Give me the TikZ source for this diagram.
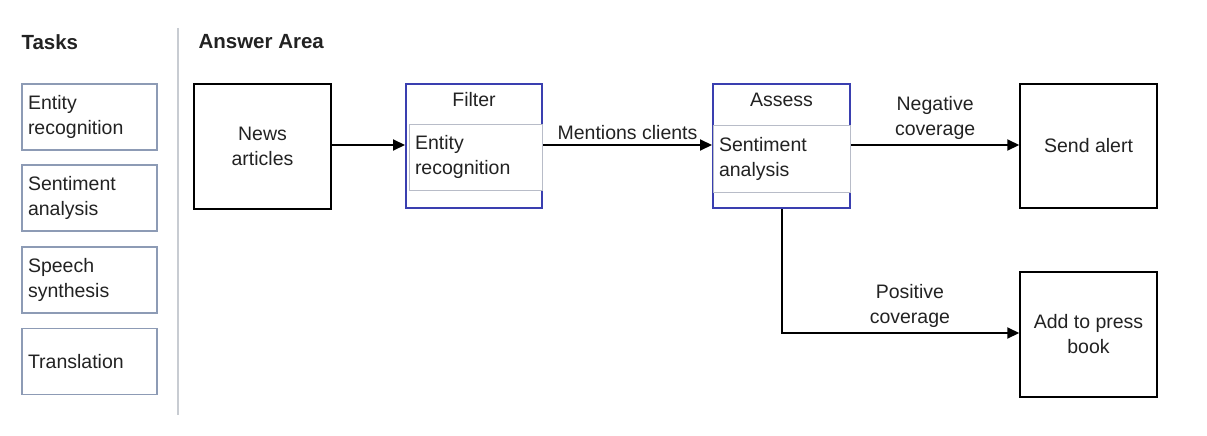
\documentclass[tikz,border=0pt]{standalone}
\usepackage{fontspec}
\setmainfont{Liberation Sans}
\usetikzlibrary{arrows.meta,positioning}
\definecolor{txt}{HTML}{222222}
\definecolor{taskc}{HTML}{8D9BB5}
\definecolor{bluec}{HTML}{3A3FB0}
\definecolor{innerc}{HTML}{B8BCC8}
\definecolor{sepc}{HTML}{C8CCD2}
\begin{document}
\begin{tikzpicture}[x=1pt,y=-1pt,
  every node/.style={font=\fontsize{19.5}{25}\selectfont, text=txt},
  taskbox/.style={draw=taskc, line width=1.4pt, minimum width=135pt, minimum height=66pt, text width=123pt, align=left, inner sep=6pt},
  plainbox/.style={draw=black, line width=1.5pt, minimum width=137pt, minimum height=125pt, align=center},
  groupbox/.style={draw=bluec, line width=2pt, minimum width=136pt, minimum height=124pt},
  innerbox/.style={draw=innerc, line width=1pt, fill=white, minimum height=66pt, text width=121pt, align=left, inner sep=6pt},
  flow/.style={line width=2pt, -{Triangle[length=12pt,width=11pt]}},
  head/.style={font=\bfseries\fontsize{20.5}{24}\selectfont, anchor=west}
]
\useasboundingbox (0,0) rectangle (1207,436);
% headers
\node[head] (tasks) at (18,42) {Tasks};
\node[head] (ans) at (195,42) {Answer Area};
\coordinate (septop) at (178,28);
\coordinate (sepbot) at (178,415);
\draw[sepc, line width=1.2pt] (septop) -- (sepbot);
% task boxes
\node[taskbox] (t1) at (89.5,117) {Entity\\recognition};
\node[taskbox] (t2) at (89.5,198) {Sentiment\\analysis};
\node[taskbox] (t3) at (89.5,280) {Speech\\synthesis};
\node[taskbox] (t4) at (89.5,361.5) {Translation};
% answer area
\node[plainbox] (news) at (262.5,146.5) {News\\articles};
\node[groupbox] (filter) at (474,146) {};
\node (filtert) at (474,100) {Filter};
\node[innerbox, minimum width=133pt] (filteri) at (475.5,157) {Entity\\recognition};
\node[groupbox, minimum width=137pt] (assess) at (781.5,146) {};
\node (assesst) at (781.5,100) {Assess};
\node[innerbox, minimum width=137pt, minimum height=67pt, text width=125pt] (assessi) at (781.5,158.5) {Sentiment\\analysis};
\node[plainbox, minimum height=124pt] (send) at (1088.5,146) {Send alert};
\node[plainbox] (press) at (1088.5,334.5) {Add to press\\book};
% connectors
\draw[flow] (news.east |- 0,145) -- (filter.west |- 0,145);
\draw[flow] (filter.east |- 0,145) -- node[above=1pt, align=center] {Mentions clients} (assess.west |- 0,145);
\draw[flow] (assess.south) |- node[pos=0.77, above=1pt, align=center] {Positive\\coverage} (press.west |- 0,333);
\draw[flow] (assess.east |- 0,145) -- node[above=1pt, align=center] {Negative\\coverage} (send.west |- 0,145);
\end{tikzpicture}
\end{document}
